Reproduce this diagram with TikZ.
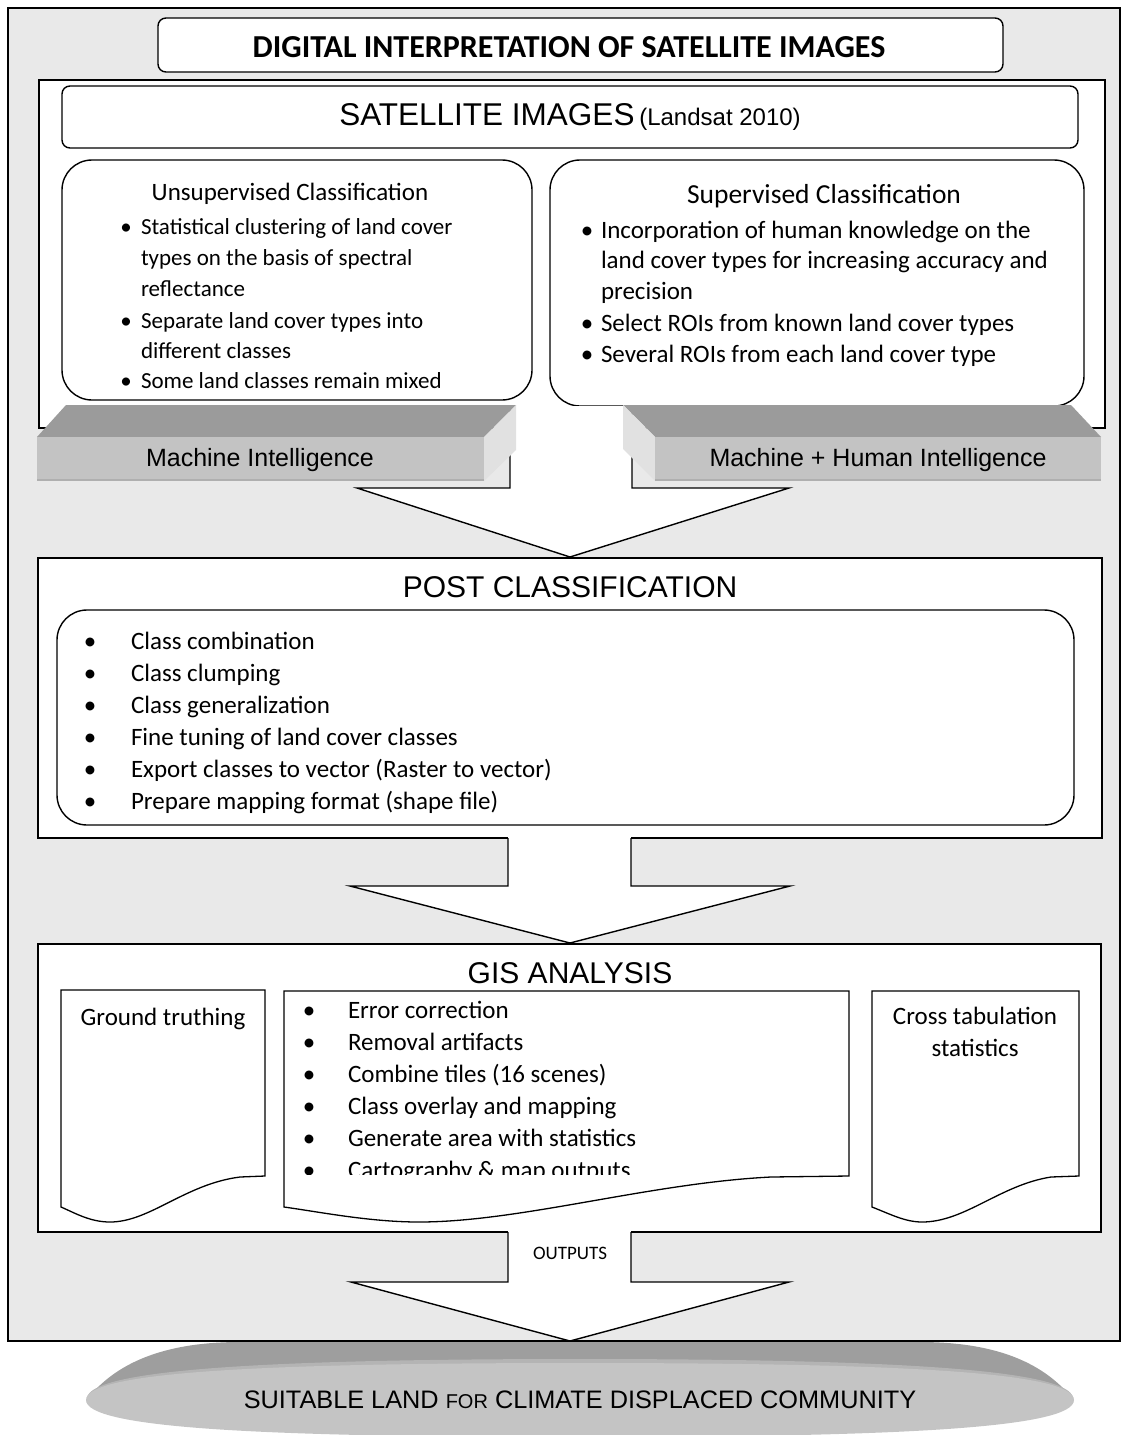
\documentclass[tikz,border=0pt]{standalone}
\usepackage{fontspec}
\setmainfont{Carlito}
\newfontfamily\arialfont{Liberation Sans}
\definecolor{bggrey}{HTML}{E9E9E9}
\definecolor{bevtop}{HTML}{9B9B9B}
\definecolor{bevfront}{HTML}{C3C3C3}
\definecolor{bevside}{HTML}{E1E1E1}
\definecolor{bevline}{HTML}{AFAFAF}
\definecolor{disctop}{HTML}{9E9E9E}
\definecolor{discfront}{HTML}{C4C4C4}
\definecolor{discrim}{HTML}{B4B4B4}
\begin{document}
\begin{tikzpicture}[x=1pt,y=-1pt,
  box/.style={draw=black, line width=1.4pt, fill=white, inner sep=0pt, outer sep=0pt, anchor=north west},
  lbl/.style={inner sep=0pt, outer sep=0pt},
  body/.style={lbl, anchor=mid west, font=\fontsize{23}{28}\selectfont},
  bul/.style={lbl, anchor=mid, font=\fontsize{23}{28}\selectfont},
  bodyS/.style={lbl, anchor=mid west, font=\fontsize{25}{30}\selectfont},
  bulS/.style={lbl, anchor=mid, font=\fontsize{25}{30}\selectfont},
  body2/.style={lbl, anchor=mid west, font=\fontsize{25}{30}\selectfont},
  bul2/.style={lbl, anchor=mid, font=\fontsize{25}{30}\selectfont},
  arial/.style={lbl, font=\arialfont\fontsize{30}{36}\selectfont},
  arr/.style={draw=black, line width=1.4pt, line join=miter},
  doc/.style={draw=black, line width=1.3pt, fill=white},
]
\useasboundingbox (0,0) rectangle (1122,1435);

% outer background
\node[box, fill=bggrey, minimum width=1112pt, minimum height=1333pt] (outer) at (8,8) {};

% title
\node[box, rounded corners=8pt, minimum width=845pt, minimum height=54pt] (title) at (158,18) {};
\node[lbl, font=\fontsize{32}{38}\selectfont\bfseries] (titletxt) at (569,47) {DIGITAL INTERPRETATION OF SATELLITE IMAGES};

% section 1
\node[box, minimum width=1066pt, minimum height=348pt] (sec1) at (39,80) {};
\node[box, rounded corners=8pt, minimum width=1016pt, minimum height=62pt] (sat) at (62,86) {};
\node[lbl, font=\arialfont] (sattxt) at (570,117) {{\fontsize{31.5}{36}\selectfont SATELLITE IMAGES}\hspace{2pt} {\fontsize{24}{28}\selectfont (Landsat 2010)}};

% unsupervised
\node[box, rounded corners=30pt, minimum width=470pt, minimum height=240pt] (unsup) at (62,160) {};
\node[lbl, anchor=mid, font=\fontsize{25}{30}\selectfont] (unsuph) at (290,198) {Unsupervised Classification};
\node[bul] (ub1) at (126,232) {\textbullet};
\node[body] (u1) at (141,232) {Statistical clustering of land cover};
\node[body] (u2) at (141,263) {types on the basis of spectral};
\node[body] (u3) at (141,294) {reflectance};
\node[bul] (ub2) at (126,326) {\textbullet};
\node[body] (u4) at (141,326) {Separate land cover types into};
\node[body] (u5) at (141,356) {different classes};
\node[bul] (ub3) at (126,386) {\textbullet};
\node[body] (u6) at (141,386) {Some land classes remain mixed};

% supervised
\node[box, rounded corners=30pt, minimum width=534pt, minimum height=246pt] (sup) at (550,160) {};
\node[lbl, anchor=mid, font=\fontsize{27.5}{32}\selectfont] (suph) at (824,201) {Supervised Classification};
\node[bulS] (sb1) at (587,236) {\textbullet};
\node[bodyS] (s1) at (601,236) {Incorporation of human knowledge on the};
\node[bodyS] (s2) at (601,266) {land cover types for increasing accuracy and};
\node[bodyS] (s3) at (601,297) {precision};
\node[bulS] (sb2) at (587,329) {\textbullet};
\node[bodyS] (s4) at (601,329) {Select ROIs from known land cover types};
\node[bulS] (sb3) at (587,360) {\textbullet};
\node[bodyS] (s5) at (601,360) {Several ROIs from each land cover type};

% arrow 1
\fill[white] (510,406) rectangle (632,488);
\fill[white] (357,488) -- (570,557) -- (789,488) -- cycle;
\draw[arr] (510,406) -- (510,488) -- (357,488) -- (570,557) -- (789,488) -- (632,488) -- (632,406);

% bevel left
\fill[bevtop] (37,437) -- (66,405) -- (516,405) -- (484,437) -- cycle;
\fill[bevside] (484,437) -- (516,405) -- (516,450) -- (484,481) -- cycle;
\node[lbl, fill=bevfront, anchor=north west, minimum width=447pt, minimum height=44pt] (bevL) at (37,437) {};
\draw[bevline, line width=1.5pt] (37,480) -- (484,480);
\node[lbl, font=\arialfont\fontsize{25}{30}\selectfont] (bevLtxt) at (260,460) {Machine Intelligence};

% bevel right
\fill[bevtop] (655,437) -- (623,405) -- (1071,405) -- (1101,437) -- cycle;
\fill[bevside] (623,405) -- (655,437) -- (655,481) -- (623,449) -- cycle;
\node[lbl, fill=bevfront, anchor=north west, minimum width=446pt, minimum height=44pt] (bevR) at (655,437) {};
\draw[bevline, line width=1.5pt] (655,480) -- (1101,480);
\node[lbl, font=\arialfont\fontsize{25}{30}\selectfont] (bevRtxt) at (878,460) {Machine + Human Intelligence};

% section 2
\node[box, minimum width=1064pt, minimum height=280pt] (sec2) at (38,558) {};
\node[arial, anchor=center] (posttxt) at (570,587) {POST CLASSIFICATION};
\node[box, rounded corners=30pt, minimum width=1017pt, minimum height=215pt] (post) at (57,610) {};
\foreach \t [count=\i from 0] in {Class combination, Class clumping, Class generalization, Fine tuning of land cover classes, Export classes to vector (Raster to vector), Prepare mapping format (shape file)} {
  \node[bul2] (pb\i) at (90,647+32*\i) {\textbullet};
  \node[body2] (p\i) at (131,647+32*\i) {\t};
}

% arrow 2
\fill[white] (508,834) rectangle (631,886);
\fill[white] (350,886) -- (570,943) -- (790,886) -- cycle;
\draw[arr] (508,838) -- (508,886) -- (350,886) -- (570,943) -- (790,886) -- (631,886) -- (631,838);

% section 3
\node[box, minimum width=1063pt, minimum height=288pt] (sec3) at (38,944) {};
\node[arial, anchor=center] (gistxt) at (570,973) {GIS ANALYSIS};

% documents
\path[doc] (61,990) -- (265,990) -- (265,1176) -- (240,1177) .. controls (185,1184) and (150,1222) .. (110,1222) .. controls (90,1222) and (75,1213) .. (61,1207) -- cycle;
\node[lbl, anchor=mid, font=\fontsize{25}{30}\selectfont] (ground) at (163,1023) {Ground truthing};

\path[doc] (284,991) -- (849,991) -- (849,1176) -- (771,1177) .. controls (650,1183) and (520,1222) .. (419,1222) .. controls (370,1222) and (320,1212) .. (284,1207) -- cycle;
\begin{scope}
\clip (284,991) rectangle (849,1174);
\foreach \t [count=\i from 0] in {Error correction, Removal artifacts, Combine tiles (16 scenes), Class overlay and mapping, Generate area with statistics, Cartography \& map outputs} {
  \node[bul2] (gb\i) at (309,1016+32*\i) {\textbullet};
  \node[body2] (g\i) at (348,1016+32*\i) {\t};
}
\end{scope}

\path[doc] (872,991) -- (1079,991) -- (1079,1176) -- (1051,1177) .. controls (1000,1185) and (965,1222) .. (922,1222) .. controls (905,1222) and (890,1214) .. (872,1207) -- cycle;
\node[lbl, anchor=mid, font=\fontsize{25}{30}\selectfont] (cross1) at (975,1022) {Cross tabulation};
\node[lbl, anchor=mid, font=\fontsize{25}{30}\selectfont] (cross2) at (975,1054) {statistics};

% arrow 3
\fill[white] (508,1228) rectangle (631,1282);
\fill[white] (351,1282) -- (570,1341) -- (789,1282) -- cycle;
\draw[arr] (508,1232) -- (508,1282) -- (351,1282) -- (570,1341) -- (789,1282) -- (631,1282) -- (631,1232);
\node[lbl, anchor=center, font=\fontsize{19}{22}\selectfont] (outputs) at (570,1253) {OUTPUTS};

% disc
\fill[disctop] (88,1398) .. controls (115,1365) and (160,1342) .. (240,1342) -- (920,1342) .. controls (1000,1342) and (1045,1365) .. (1072,1398) -- cycle;
\fill[discrim] (87,1398) .. controls (90,1370) and (260,1359) .. (580,1359) .. controls (900,1359) and (1070,1370) .. (1073,1398) -- cycle;
\fill[discfront] (86,1400) .. controls (86,1372) and (260,1363) .. (580,1363) .. controls (900,1363) and (1074,1372) .. (1074,1400) .. controls (1074,1428) and (900,1437) .. (580,1437) .. controls (260,1437) and (86,1428) .. (86,1400) -- cycle;
\node[lbl, font=\arialfont\fontsize{25.3}{30}\selectfont] (suitable) at (580,1400) {SUITABLE LAND {\fontsize{20}{24}\selectfont FOR} CLIMATE DISPLACED COMMUNITY};
\end{tikzpicture}
\end{document}
